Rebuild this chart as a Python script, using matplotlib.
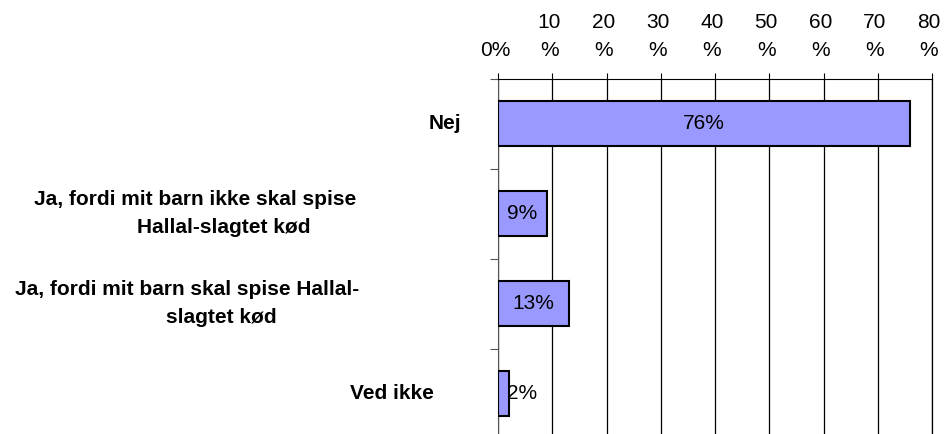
import matplotlib
matplotlib.use("Agg")
import matplotlib.pyplot as plt
from matplotlib import transforms

# Survey answers and their shares (percent)
categories = [
    "Nej",
    "Ja, fordi mit barn ikke skal spise\nHallal-slagtet kød",
    "Ja, fordi mit barn skal spise Hallal-\nslagtet kød",
    "Ved ikke",
]
values = [76, 9, 13, 2]
tick_values = [0, 10, 20, 30, 40, 50, 60, 70, 80]
tick_labels = ["0%", "10\n%", "20\n%", "30\n%", "40\n%", "50\n%", "60\n%", "70\n%", "80\n%"]

plt.rcParams["font.family"] = ["Liberation Sans", "DejaVu Sans"]

W, H = 944, 434
fig = plt.figure(figsize=(W / 100, H / 100), dpi=100)
left_px, right_px, top_px, bottom_px = 498, 932, 78.5, 438.5
ax = fig.add_axes([left_px / W, 1 - bottom_px / H,
                   (right_px - left_px) / W, (bottom_px - top_px) / H])

ypos = list(range(len(categories)))
ax.barh(ypos, values, height=0.49, color="#9999FF", edgecolor="black",
        linewidth=1.5, zorder=3)

ax.set_xlim(0, 80)
ax.set_ylim(len(categories) - 0.5, -0.5)

# Percentage axis along the top
ax.xaxis.tick_top()
ax.set_xticks(tick_values)
ax.set_xticklabels(tick_labels, fontsize=15, linespacing=1.6)
ax.tick_params(axis="x", direction="out", length=4.5, width=0.8, pad=8.5,
               color="black")
for lbl in ax.get_xticklabels():
    lbl.set_transform(lbl.get_transform() +
                      transforms.ScaledTranslation(-3 / 100, 0, fig.dpi_scale_trans))

# Category separators on the left axis
ax.set_yticks([i - 0.5 for i in range(len(categories) + 1)])
ax.set_yticklabels([])
ax.tick_params(axis="y", direction="out", length=6, width=0.8, color="#555555")

ax.grid(axis="x", color="black", linewidth=0.9)
ax.set_axisbelow(True)
ax.spines["bottom"].set_visible(False)
ax.spines["top"].set_linewidth(0.8)
ax.spines["left"].set_color("#555555")
ax.spines["left"].set_linewidth(0.8)
ax.spines["right"].set_linewidth(0.9)

# Value labels on the bars
for y, v in zip(ypos, values):
    ax.text(max(v / 2, 4.5), y, f"{v}%", ha="center", va="center",
            fontsize=15, zorder=4)

# Category labels, one text per line
label_x_px = [[445], [195.5, 223.5], [187, 221.5], [392]]
blend = transforms.blended_transform_factory(ax.transAxes, ax.transData)
for y, text, xs in zip(ypos, categories, label_x_px):
    lines = text.split("\n")
    n = len(lines)
    for k, (line, xp) in enumerate(zip(lines, xs)):
        dy = (k - (n - 1) / 2) * -28 * 0.72
        ax.annotate(line, xy=((xp - left_px) / (right_px - left_px), y),
                    xycoords=blend, xytext=(0, dy), textcoords="offset points",
                    ha="center", va="center", fontsize=15, fontweight="bold",
                    annotation_clip=False)

fig.savefig("out.png", dpi=100)
